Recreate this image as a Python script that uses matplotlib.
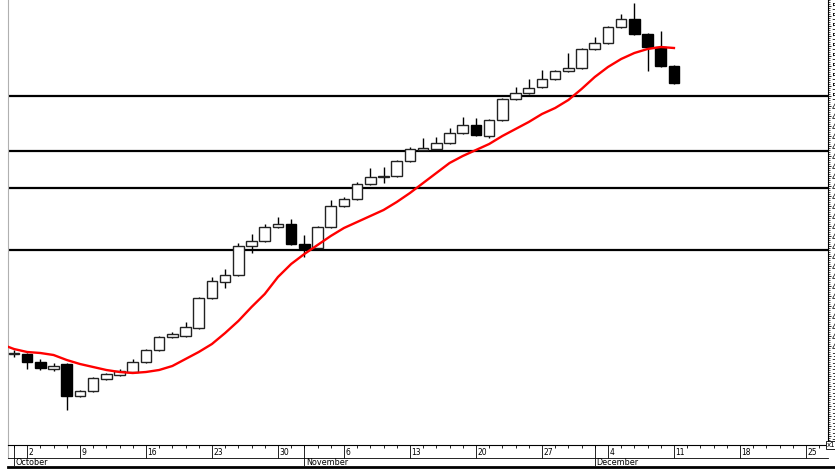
import matplotlib
matplotlib.use("Agg")
import matplotlib.pyplot as plt
from matplotlib.ticker import MultipleLocator
from matplotlib.lines import Line2D
import numpy as np
import pandas as pd

# Handelstage (3. Oktober Feiertag)
days = pd.bdate_range("2000-09-29", "2000-12-29")
days = days[days != pd.Timestamp("2000-10-03")]

opens = [3968, 3968, 3936, 3908, 3928, 3800, 3820, 3868, 3884, 3896,
         3936, 3984, 4036, 4040, 4072, 4192, 4256, 4284, 4400, 4420,
         4476, 4488, 4408, 4392, 4476, 4560, 4588, 4648, 4676, 4680,
         4740, 4784, 4788, 4812, 4852, 4884, 4840, 4904, 4988, 5012,
         5036, 5068, 5100, 5112, 5188, 5212, 5276, 5308, 5248, 5196,
         5120]
highs = [3984, 3972, 3948, 3932, 3932, 3824, 3876, 3892, 3908, 3948,
         3988, 4040, 4056, 4096, 4196, 4276, 4308, 4412, 4448, 4488,
         4516, 4508, 4444, 4480, 4584, 4596, 4656, 4712, 4716, 4744,
         4796, 4832, 4836, 4872, 4916, 4912, 4908, 4992, 5036, 5068,
         5104, 5104, 5172, 5192, 5236, 5280, 5328, 5372, 5252, 5260,
         5124]
lows = [3956, 3908, 3904, 3900, 3744, 3796, 3816, 3864, 3880, 3892,
        3932, 3980, 4032, 4036, 4068, 4188, 4232, 4280, 4372, 4416,
        4472, 4404, 4356, 4388, 4472, 4556, 4584, 4644, 4652, 4676,
        4736, 4780, 4784, 4808, 4848, 4840, 4832, 4900, 4984, 5008,
        5032, 5064, 5096, 5108, 5184, 5208, 5272, 5244, 5100, 5116,
        5048]
closes = [3972, 3936, 3912, 3920, 3800, 3820, 3872, 3888, 3900, 3936,
          3984, 4036, 4048, 4076, 4192, 4260, 4284, 4400, 4420, 4476,
          4488, 4408, 4392, 4476, 4560, 4588, 4648, 4676, 4680, 4740,
          4788, 4792, 4812, 4852, 4884, 4844, 4904, 4988, 5012, 5032,
          5068, 5100, 5112, 5188, 5212, 5276, 5308, 5248, 5196, 5120,
          5052]

# gleitender Durchschnitt (ab dem Tag vor dem ersten Balken)
ma = [4008, 3988, 3976, 3972, 3964, 3944, 3928, 3916, 3904, 3896, 3892,
      3896, 3904, 3920, 3948, 3976, 4008, 4052, 4100, 4156, 4208,
      4276, 4328, 4368, 4404, 4440, 4472, 4496, 4520, 4544, 4576,
      4612, 4652, 4692, 4732, 4760, 4784, 4808, 4840, 4868, 4896,
      4928, 4952, 4984, 5028, 5076, 5116, 5148, 5172, 5188, 5196,
      5192]

levels = [5000, 4780, 4632, 4384]

W, H = 835, 469
fig = plt.figure(figsize=(W / 100, H / 100), dpi=100)
left, right = 8 / W, 828 / W
ax = fig.add_axes([left, 24 / H, right - left, 1 - 24 / H])

n = len(opens)
x = np.arange(n)
o = np.array(opens); c = np.array(closes)
up = c >= o

ax.vlines(x, lows, highs, color="black", lw=1.0, zorder=2)
ax.bar(x[up], c[up] - o[up], bottom=o[up], width=0.8, color="white",
       edgecolor="#222222", linewidth=1.0, zorder=3)
ax.bar(x[~up], o[~up] - c[~up], bottom=c[~up], width=0.8, color="black",
       edgecolor="black", linewidth=1.0, zorder=3)

ax.plot(np.arange(-1, n), ma, color="red", lw=1.7, zorder=4)

for lv in levels:
    ax.axhline(lv, color="black", lw=1.6, zorder=1)

xmin, xmax = -0.45, 61.67
ax.set_xlim(xmin, xmax)
ax.set_ylim(5384 - 4 * 445, 5384)

ax.set_xticks([])
ax.yaxis.tick_right()
ax.yaxis.set_major_locator(MultipleLocator(40))
ax.yaxis.set_minor_locator(MultipleLocator(8))
ax.tick_params(axis="y", which="major", length=2.2, width=0.6, labelsize=6.5, pad=0.4)
ax.tick_params(axis="y", which="minor", length=1.2, width=0.5)
ax.spines["top"].set_visible(False)
ax.spines["bottom"].set_visible(False)
ax.spines["left"].set_color("#b0b0b0")
ax.spines["right"].set_linewidth(0.8)

# Datumsleiste
axd = fig.add_axes([left, 11 / H, right - left, 13 / H])
axd.set_xlim(xmin, xmax)
axd.set_ylim(0, 1)
axd.set_yticks([])
ticks = np.arange(0, 62)
mondays = [i for i in ticks if days[i].weekday() == 0]
axd.set_xticks(mondays)
axd.set_xticklabels([])
axd.set_xticks([i for i in ticks if i not in mondays], minor=True)
axd.tick_params(axis="x", which="both", top=True, bottom=False, direction="in",
                width=0.6)
axd.tick_params(axis="x", which="major", length=9)
axd.tick_params(axis="x", which="minor", length=2.5)
for i in mondays:
    axd.text(i + 0.12, 0.45, str(days[i].day), fontsize=5.5, ha="left", va="center")
axd.spines["right"].set_visible(False)
axd.spines["left"].set_color("#b0b0b0")
axd.spines["top"].set_linewidth(0.8)
axd.spines["bottom"].set_linewidth(0.6)

# Monatsleiste
axm = fig.add_axes([left, 3 / H, right - left, 8 / H])
axm.set_xlim(xmin, xmax)
axm.set_ylim(0, 1)
axm.axis("off")
firsts = [0, 22, 44]
for i in firsts:
    axm.axvline(i, color="black", lw=0.6)
    axd.axvline(i, color="black", lw=0.6)
    axm.text(i + 0.12, 0.45, days[min(i + 1, 44) if i == 0 else i].strftime("%B"),
             fontsize=5.8, ha="left", va="center")

fig.add_artist(Line2D([left, 1], [2.5 / H, 2.5 / H], color="black", lw=2.0))
fig.text(827 / W, 1 - 445 / H, "x1", fontsize=5, ha="left", va="center",
         bbox=dict(boxstyle="square,pad=0.15", fc="white", ec="black", lw=0.6))

fig.savefig("out.png", dpi=100)
